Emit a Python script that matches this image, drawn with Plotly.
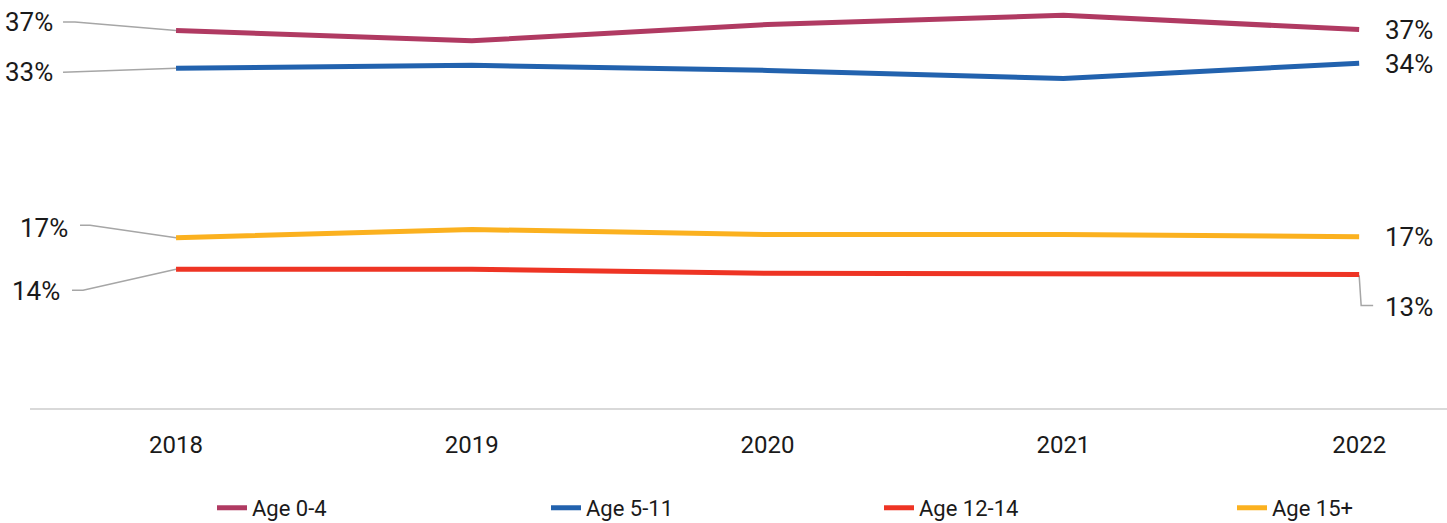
import plotly.graph_objects as go

years = ["2018", "2019", "2020", "2021", "2022"]
series_names = ["Age 0-4", "Age 5-11", "Age 12-14", "Age 15+"]
age_0_4 = [37.0, 36.0, 37.6, 38.5, 37.1]
age_5_11 = [33.3, 33.6, 33.1, 32.3, 33.8]
age_12_14 = [13.6, 13.6, 13.2, 13.1, 13.1]
age_15_plus = [16.7, 17.5, 17.0, 17.0, 16.8]

colors = ["#B03A62", "#2262AE", "#EE3424", "#FBB11F"]
all_values = [age_0_4, age_5_11, age_12_14, age_15_plus]

W, H = 1447, 523
ML, MR, MT, MB = 30, 0, 0, 115
PLOT_W = W - ML - MR
X_RANGE = [-0.4937, 4.297]
Y_RANGE = [0, 40]

# legend item left edges (px) — layout only
legend_left_px = [212, 546, 879, 1232]
legend_keys = ["legend", "legend2", "legend3", "legend4"]

x_idx = list(range(len(years)))

fig = go.Figure()
for name, vals, col, lk in zip(series_names, all_values, colors, legend_keys):
    fig.add_trace(go.Scatter(
        x=x_idx, y=vals, name=name, mode="lines",
        line=dict(color=col, width=5),
        hoverinfo="skip", legend=lk,
    ))

LABEL_FONT = dict(family="Roboto", size=26, color="#1a1a1a")
GREY = "#A6A6A6"

# (series index, point index, side, text xshift, text yshift, leader path in px rel. to point)
label_specs = [
    (0, 0, "left", -121, 8.5, "M0,0 L-101,8.5 L-113,8.5"),
    (1, 0, "left", -121, -4, "M0,0 L-113,-4"),
    (3, 0, "left", -106, 10, "M0,0 L-86,12.5 L-96,12.5"),
    (2, 0, "left", -114, -22, "M0,0 L-93,-21 L-104,-21"),
    (0, 4, "right", 24, 0, None),
    (1, 4, "right", 24, -1, None),
    (3, 4, "right", 24, 0, None),
    (2, 4, "right", 24, -33, "M0,-1 L2,-31 L14,-31"),
]

for si, pi, side, xs, ys, path in label_specs:
    v = all_values[si][pi]
    fig.add_annotation(
        x=x_idx[pi], y=v, xref="x", yref="y",
        text=f"{round(v):d}%", showarrow=False,
        xanchor="right" if side == "left" else "left",
        yanchor="middle", xshift=xs, yshift=ys, font=LABEL_FONT,
    )
    if path:
        fig.add_shape(
            type="path", xref="x", yref="y",
            xsizemode="pixel", ysizemode="pixel",
            xanchor=x_idx[pi], yanchor=v, path=path,
            line=dict(color=GREY, width=1.5), layer="below",
        )

LEG_FONT = dict(family="Roboto", size=22, color="#1a1a1a")
legend_layouts = {}
for lk, lp in zip(legend_keys, legend_left_px):
    legend_layouts[lk] = dict(
        orientation="h", x=(lp - ML) / PLOT_W, xanchor="left",
        y=-0.245, yanchor="middle", font=LEG_FONT,
        bgcolor="rgba(0,0,0,0)",
    )

fig.update_layout(
    width=W, height=H,
    margin=dict(l=ML, r=MR, t=MT, b=MB, autoexpand=False),
    plot_bgcolor="white", paper_bgcolor="white",
    xaxis=dict(
        range=X_RANGE, tickvals=x_idx, ticktext=years,
        showgrid=False, zeroline=False,
        showline=True, linecolor="#D9D9D9", linewidth=2,
        ticks="", ticklabelstandoff=14,
        tickfont=dict(family="Roboto", size=24, color="#1a1a1a"),
    ),
    yaxis=dict(range=Y_RANGE, visible=False),
    showlegend=True,
    **legend_layouts,
)

fig.write_html(
    "out.html",
    config={"displayModeBar": False},
    post_script="document.body.style.margin='0';document.body.style.overflow='hidden';",
)
